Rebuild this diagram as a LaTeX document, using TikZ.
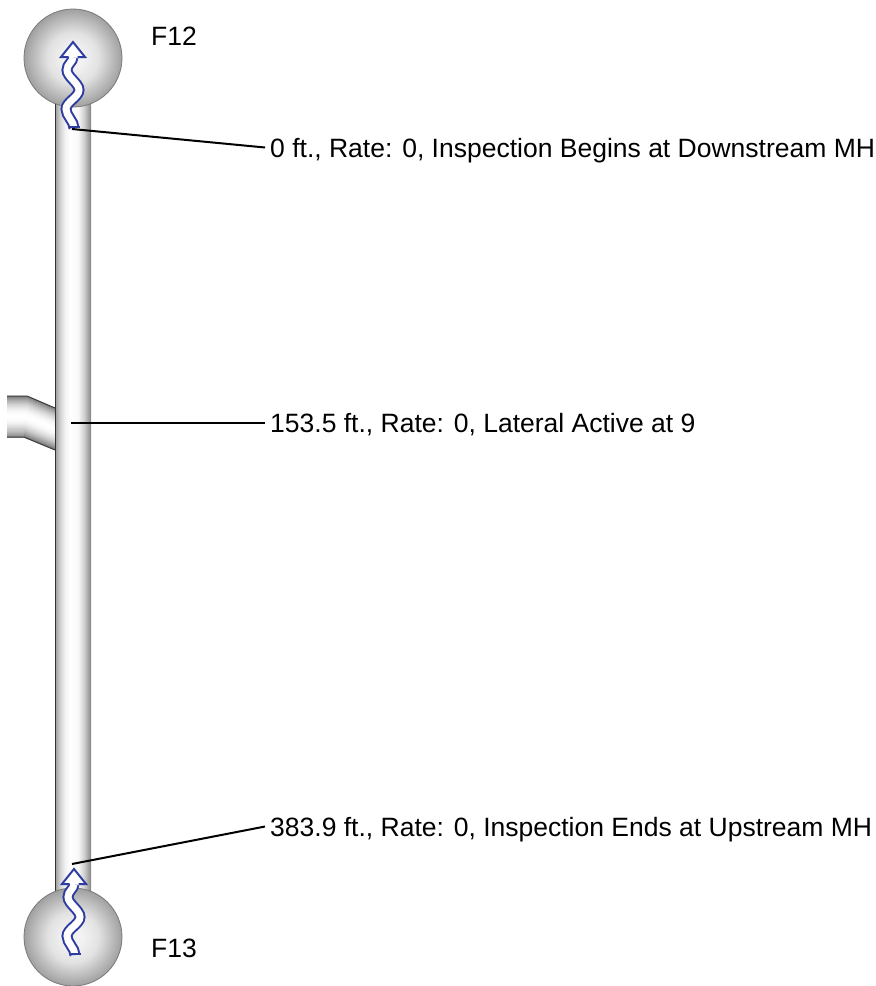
\documentclass[tikz,border=0pt]{standalone}
\usepackage{fontspec}
\setmainfont{Liberation Sans}

% pipe and manhole tones
\definecolor{pA}{HTML}{6E6E6E}
\definecolor{pB}{HTML}{A6A6A6}
\definecolor{pC}{HTML}{D2D2D2}
\definecolor{pD}{HTML}{F3F3F3}
\definecolor{pE}{HTML}{F8F8F8}
\definecolor{pF}{HTML}{A2A2A2}
\definecolor{pG}{HTML}{8E8E8E}
\definecolor{mA}{HTML}{F2F2F2}
\definecolor{mM}{HTML}{E2E2E2}
\definecolor{mB}{HTML}{A0A0A0}
\definecolor{mhedge}{HTML}{7A7A7A}
\definecolor{flowblue}{RGB}{45,60,160}

\pgfdeclarehorizontalshading{pipebody}{100bp}{color(0bp)=(pA); color(25bp)=(pA);
  color(26.4bp)=(pB); color(32bp)=(pC); color(39bp)=(pD); color(46bp)=(white);
  color(57bp)=(pE); color(65bp)=(pC); color(71.5bp)=(pF); color(73.6bp)=(pG);
  color(75bp)=(pF); color(100bp)=(pF)}
\pgfdeclareradialshading{mholeshade}{\pgfpoint{0bp}{0bp}}{color(0bp)=(mA);
  color(5bp)=(mA); color(13bp)=(mM); color(25bp)=(mB); color(50bp)=(mB)}

\tikzset{
  manhole/.style={circle, draw=mhedge, line width=0.8pt, minimum size=98pt,
    inner sep=0pt, shading=mholeshade},
  lbl/.style={anchor=base west, inner xsep=5pt, inner ysep=0pt, text height=19pt,
    text depth=0pt, font=\fontsize{26.5}{30}\selectfont},
  tag/.style={anchor=base west, inner sep=0pt, font=\fontsize{26.5}{30}\selectfont},
  leader/.style={draw=black, line width=2pt},
  pipeedge/.style={line width=1pt},
}

% wavy flow arrow, drawn relative to the upstream manhole
\newcommand\flowarrow[1]{%
  \begin{scope}[shift={#1}]
    \draw[flowblue, line width=11pt] (74,128) .. controls (74,121) and (66,116) .. (66,109)
      .. controls (66,102) and (79,97) .. (79,90)
      .. controls (79,83) and (67,77) .. (67,70)
      .. controls (67,64) and (73,62) .. (73,57);
    \draw[white, line width=7pt] (74,128) .. controls (74,121) and (66,116) .. (66,109)
      .. controls (66,102) and (79,97) .. (79,90)
      .. controls (79,83) and (67,77) .. (67,70)
      .. controls (67,64) and (73,62) .. (73,57);
    \fill[white] (61,57) -- (73,42) -- (85,57) -- cycle;
    \draw[flowblue, line width=2pt, line join=miter] (68.5,57) -- (61,57) -- (73,42) -- (85,57) -- (77.5,57);
    \draw[flowblue, line width=2pt] (68.5,127) -- (79.5,127);
  \end{scope}}

\begin{document}
\begin{tikzpicture}[x=1pt, y=-1pt]
\useasboundingbox (0,0) rectangle (876,986);

% lateral connection on the left side, shaded with strips that follow its bend
\foreach \i in {0,...,41} {
  \pgfmathsetmacro\t{\i/41}
  \pgfmathsetmacro\p{52*abs(2*\t-1)^2}
  \pgfmathsetmacro\bx{27-3*\t}
  \pgfmathsetmacro\yl{396.5+40.5*\t}
  \pgfmathsetmacro\yr{408.5+41*\t}
  \draw[black!\p!white, line width=1.3pt] (7,\yl) -- (\bx,\yl) -- (55,\yr);
}
\draw[black!75, line width=1pt] (7,396) -- (27,396) -- (55,408);
\draw[black!75, line width=1pt] (7,437) -- (24,437) -- (55,450);

% main pipe
\shade[shading=pipebody] (55,58) rectangle (91,937);
\draw[pipeedge, black!80] (55.5,58) -- (55.5,937);
\draw[pipeedge, black!45] (90.5,58) -- (90.5,937);

% manholes
\node[manhole] (mhA) at (73,58) {};
\node[manhole] (mhB) at (73,937) {};

% flow direction arrows
\flowarrow{(0,0)}
\flowarrow{(1,827)}

% manhole names
\node[tag] (nA) at (151,45) {F12};
\node[tag] (nB) at (151,957) {F13};

% observation points along the pipe
\coordinate (obs1) at (72,129);
\coordinate (obs2) at (71,422.5);
\coordinate (obs3) at (72,864);

\node[lbl] (t1) at (265,157) {0 ft., Rate: 0, Inspection Begins at Downstream MH};
\node[lbl] (t2) at (265,432) {153.5 ft., Rate: 0, Lateral Active at 9};
\node[lbl] (t3) at (265,836) {383.9 ft., Rate: 0, Inspection Ends at Upstream MH};

\draw[leader] (obs1) -- (t1.west);
\draw[leader] (obs2) -- (t2.west);
\draw[leader] (obs3) -- (t3.west);
\end{tikzpicture}
\end{document}
